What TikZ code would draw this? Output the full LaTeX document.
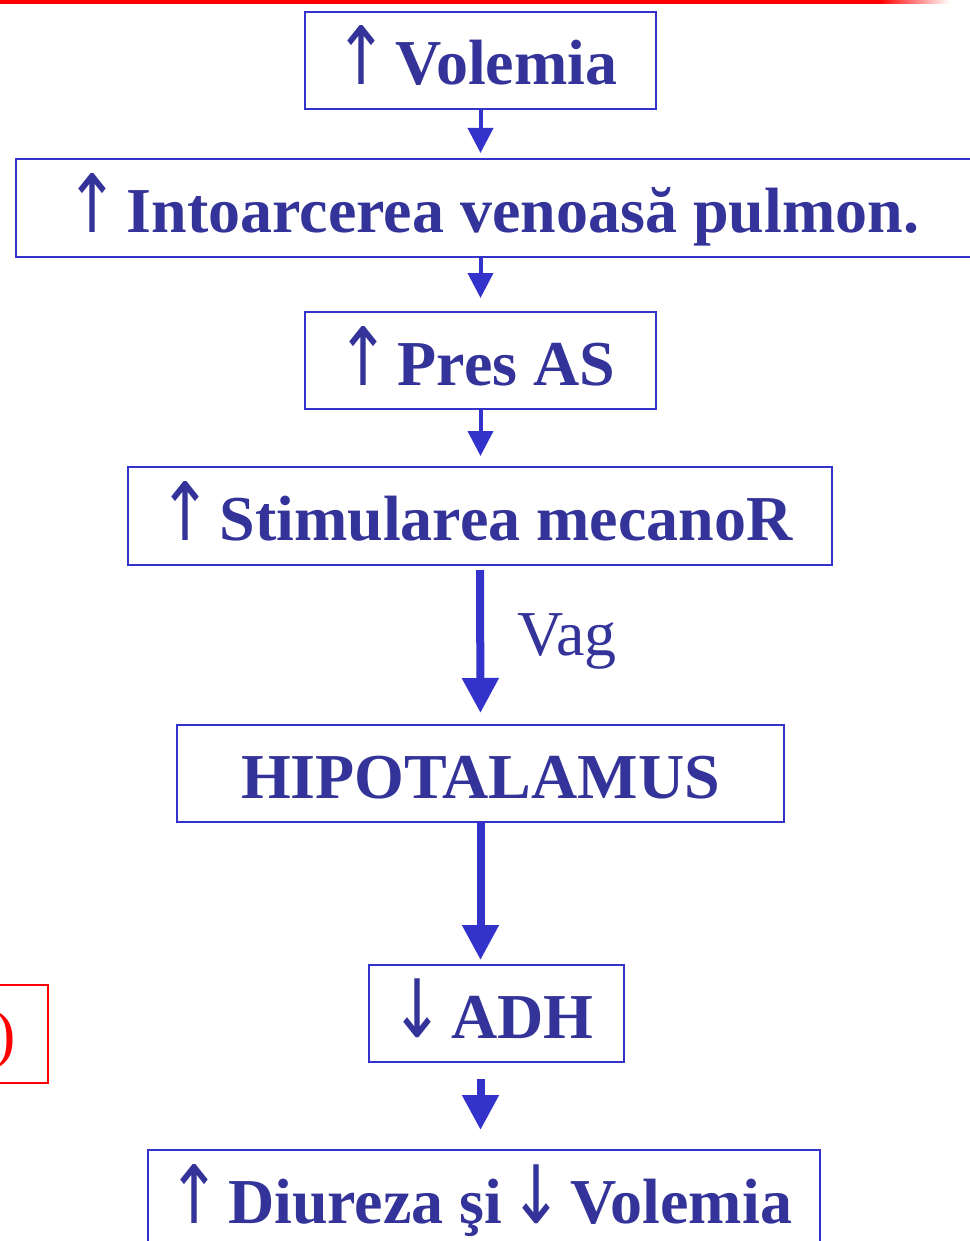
\documentclass[tikz,border=0pt]{standalone}
\usepackage{fontspec}
\setmainfont{Liberation Serif}
\newfontfamily\arrfont{DejaVu Sans}
\usetikzlibrary{arrows.meta}
\definecolor{txtblue}{RGB}{51,51,153}
\definecolor{lineblue}{RGB}{51,51,204}
\newcommand{\upar}{{\kern-9pt\scalebox{0.8}[1]{\resizebox*{!}{59pt}{\raisebox{\depth}{\arrfont\mdseries ↑}}}\kern-9pt}}
\newcommand{\dnar}{{\kern-9pt\scalebox{0.8}[1]{\resizebox*{!}{59pt}{\raisebox{\depth}{\arrfont\mdseries ↓}}}\kern-9pt}}
\begin{document}
\begin{tikzpicture}[x=1pt,y=-1pt,
  box/.style={draw=lineblue, line width=2pt, rectangle, inner sep=0pt,
    text=txtblue, font=\fontsize{64}{70}\selectfont\bfseries,
    text height=49pt, text depth=0pt, align=center},
  thinarr/.style={draw=lineblue, line width=4pt, -{Triangle[length=25pt,width=25pt]}},
  thickarr/.style={draw=lineblue, line width=8pt, -{Triangle[length=35pt,width=35pt]}}]
\useasboundingbox (0,0) rectangle (969,1241);
% top red rule
\fill[red] (0,0) rectangle (880,4);
\shade[left color=red, right color=white] (880,0) rectangle (950,4);
% boxes
\node[box, minimum width=351pt, minimum height=97pt] (vol) at (480.5,60.5) {\upar\ Volemia};
\node[box, minimum width=962pt, minimum height=98pt] (int) at (497,208) {\upar\ Intoarcerea venoasă pulmon.};
\node[box, minimum width=351pt, minimum height=97pt] (pres) at (480.5,360.5) {\upar\ Pres AS};
\node[box, minimum width=704pt, minimum height=98pt] (stim) at (480,516) {\upar\ Stimularea mecanoR};
\node[box, minimum width=607pt, minimum height=97pt] (hipo) at (480.5,773.5) {HIPOTALAMUS};
\node[box, minimum width=255pt, minimum height=97pt] (adh) at (496.5,1013.5) {\dnar\ ADH};
\node[box, minimum width=672pt, minimum height=98pt] (diu) at (484,1199) {\upar\ Diureza şi \dnar\ Volemia};
% red box at left
\node[draw=red, line width=2pt, minimum width=348pt, minimum height=98pt, inner sep=0pt] (redbox) at (-126,1034) {};
\node[text=red, font=\fontsize{64}{70}\selectfont, anchor=base east, inner sep=0pt] (redtxt) at (16,1055) {)};
% label
\node[text=txtblue, font=\fontsize{64}{70}\selectfont, anchor=base west, inner sep=0pt] (vag) at (517,655) {Vag};
% connectors
\draw[thinarr, shorten >=5pt] (vol.south) -- (vol.south |- int.north);
\draw[thinarr, shorten >=13pt] (vol.south |- int.south) -- (vol.south |- pres.north);
\draw[thinarr, shorten >=10pt] (pres.south) -- (pres.south |- stim.north);
\draw[thickarr, shorten <=4pt, shorten >=11pt] (stim.south) -- (hipo.north);
\draw[thickarr, shorten >=4pt] (hipo.south) -- (hipo.south |- adh.north);
\draw[thickarr, shorten <=16pt, shorten >=19pt] (hipo.south |- adh.south) -- (hipo.south |- diu.north);
\end{tikzpicture}
\end{document}
